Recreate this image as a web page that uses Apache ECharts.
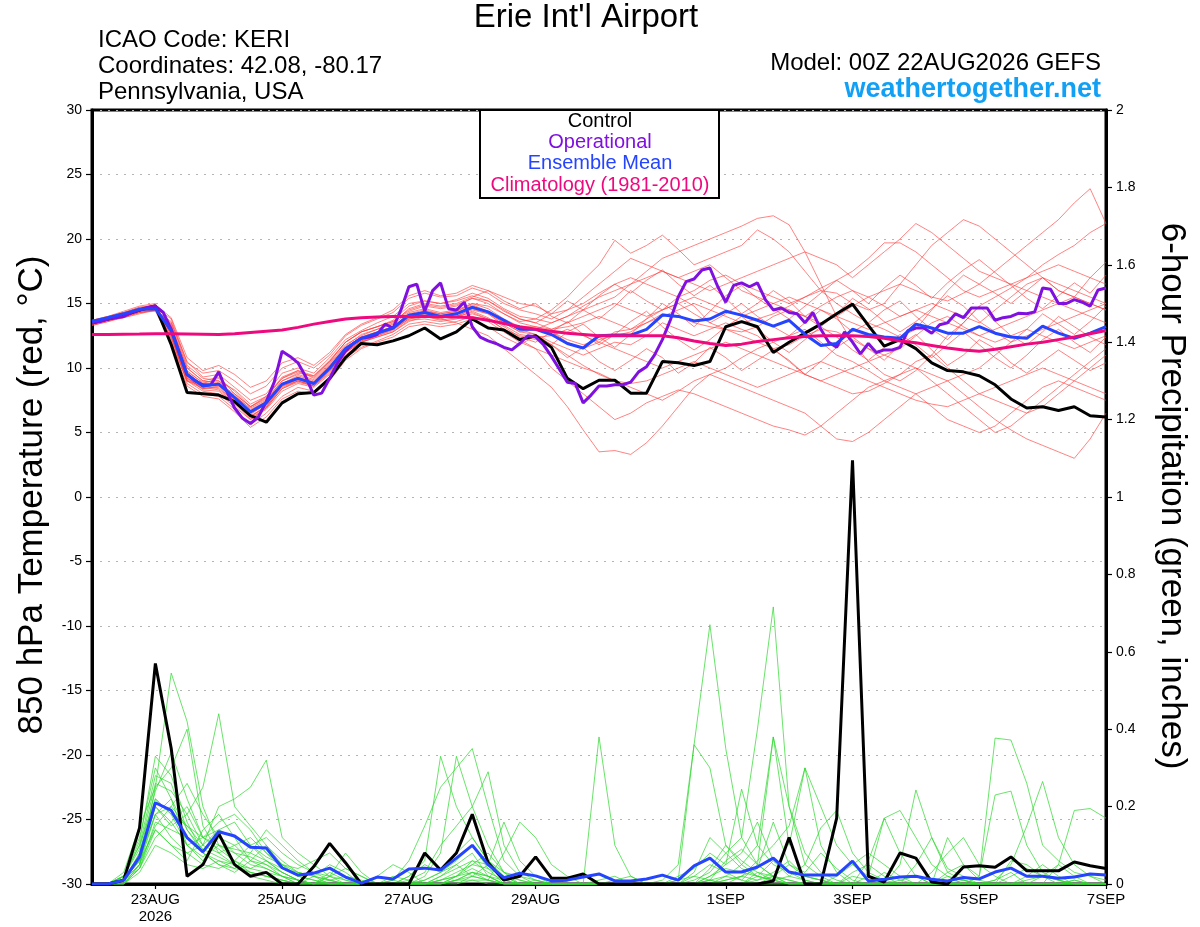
<!DOCTYPE html>
<html>
<head>
<meta charset="utf-8">
<script src="https://cdn.jsdelivr.net/npm/echarts@6/dist/echarts.min.js"></script>
<style>
html,body{margin:0;padding:0;background:#fff;}
#chart{width:1200px;height:927px;}
</style>
</head>
<body>
<div id="chart"></div>
<script>
// ---------- DATA (6-hourly from 00Z 22AUG2026 unless noted) ----------
const tickHours = [24, 72, 120, 168, 240, 288, 336, 384];
const tickLabels = ['23AUG\n2026', '25AUG', '27AUG', '29AUG', '1SEP', '3SEP', '5SEP', '7SEP'];

const climatology = [12.6,
  12.6,12.62,12.63,12.65, 12.65,12.64,12.62,12.6, 12.65,12.75,12.85,12.95, 13.15,13.4,13.6,13.8,
  13.9,13.95,14.0,14.0, 14.0,14.0,13.95,13.9, 13.7,13.45,13.2,13.0, 12.85,12.7,12.6,12.5,
  12.5,12.5,12.5,12.5, 12.35,12.1,11.9,11.75, 11.85,12.05,12.2,12.35, 12.45,12.5,12.5,12.5,
  12.45,12.3,12.1,11.95, 11.75,11.55,11.4,11.3, 11.45,11.65,11.85,12.0, 12.2,12.4,12.65,12.9];

const controlTemp = [13.5,
  13.8,14.1,14.5,14.8, 11.8,8.1,8.0,7.9, 7.4,6.3,5.8,7.3, 8.0,8.1,9.2,10.8,
  11.9,11.8,12.1,12.5, 13.1,12.25,12.8,13.8, 13.1,12.95,12.2,12.5, 11.6,9.2,8.4,9.05,
  9.05,8.05,8.05,10.5, 10.4,10.2,10.5,13.2, 13.6,13.2,11.2,12.0, 12.7,13.4,14.2,14.95,
  13.3,11.7,12.2,11.5, 10.4,9.8,9.7,9.4, 8.7,7.6,6.9,7.0, 6.7,7.0,6.3,6.2];

const meanTemp = [13.6,
  13.9,14.2,14.55,14.6, 12.9,9.5,8.6,8.75, 7.7,6.6,7.3,8.75, 9.2,8.8,10.0,11.5,
  12.3,12.7,13.1,14.1, 14.3,14.0,14.2,14.7, 14.35,13.7,13.0,13.0, 12.6,11.9,11.55,12.5,
  12.55,12.55,13.0,14.1, 14.0,13.65,13.8,14.4, 14.1,13.7,13.25,13.7, 12.6,11.75,11.9,13.0,
  12.6,12.4,12.3,13.4, 13.1,12.7,12.7,13.2, 12.7,12.4,12.3,13.25, 12.7,12.3,12.7,13.2];

// operational run is 3-hourly
const operationalTemp = [13.5,13.6,13.8,13.9,14.0,14.3,14.5,14.7,14.8,
  14.3,13.0,11.2,9.5,9.0,8.7,8.7,9.7,
  8.2,6.9,6.1,5.7,6.2,7.4,8.9,11.3,
  10.9,10.4,9.3,7.9,8.05,9.2,10.4,11.3,
  11.9,12.3,12.4,12.6,13.4,13.1,14.5,16.3,
  16.5,14.4,16.0,16.6,14.6,14.5,15.1,13.2,
  12.4,12.1,11.9,11.6,11.4,11.9,12.5,12.4,
  11.8,10.9,9.9,8.9,8.8,7.3,7.9,8.6,
  8.6,8.7,8.7,8.9,9.7,10.1,11.0,12.2,
  13.7,15.5,16.7,16.9,17.6,17.75,16.3,15.1,
  16.4,16.6,16.3,16.6,15.3,14.5,14.65,14.3,
  14.2,13.5,14.3,13.0,12.0,11.6,12.8,12.0,
  11.1,11.9,11.2,11.4,11.4,11.6,12.9,13.1,
  13.1,12.7,13.35,13.5,14.2,13.9,14.65,14.65,
  14.65,13.7,13.9,14.0,14.25,14.2,14.35,16.2,
  16.1,15.0,15.0,15.3,15.1,14.8,16.05,16.2];

const tempMembers = [
  [13.4,13.7,14.0,14.4,14.6,13.2,10.0,9.0,8.8,8.0,7.0,7.6,9.0,9.6,9.4,10.5,12.0,12.8,13.2,13.6,14.4,14.8,14.6,
   14.8,15.4,15.0,14.2,13.6,13.8,14.5,15.5,16.8,18.0,19.9,18.9,19.5,20.3,19.2,18.0,18.5,19.0,19.5,20.7,20.0,
   19.0,17.5,16.0,15.0,14.2,13.5,13.0,12.4,13.0,14.5,16.0,17.2,16.5,15.8,15.0,16.0,17.0,16.0,15.5,17.0,18.2],
  [13.7,14.0,14.3,14.7,14.9,12.5,9.0,8.2,8.0,7.0,6.0,6.8,8.2,8.8,8.5,9.5,11.0,12.0,12.5,12.9,13.8,14.0,13.8,
   13.5,13.0,12.5,11.5,10.5,9.5,8.5,7.0,5.2,3.5,3.6,3.3,4.2,5.5,7.0,8.5,9.5,10.0,10.8,11.5,12.0,
   12.5,13.0,12.0,11.0,10.5,9.8,9.0,9.5,10.5,11.0,10.0,9.0,8.0,7.5,7.0,6.5,7.5,8.5,9.5,10.5,11.5],
  [13.3,13.6,13.9,14.2,14.5,13.5,10.5,9.3,9.5,8.5,7.5,8.0,9.6,10.0,9.6,10.8,12.2,12.9,13.5,14.0,15.0,15.2,15.0,
   15.3,15.8,15.4,14.6,14.0,13.8,13.5,14.0,14.8,15.5,16.0,16.5,17.5,18.5,19.0,19.5,20.0,20.5,21.0,21.6,21.8,
   21.1,19.0,16.5,14.0,12.0,10.5,9.5,9.0,9.8,11.0,12.5,13.5,14.8,15.5,16.2,17.0,18.0,18.8,19.5,20.5,21.2],
  [13.5,13.8,14.1,14.5,14.7,12.8,9.2,8.4,8.5,7.4,6.3,7.0,8.5,9.0,8.6,9.7,11.3,12.1,12.5,13.0,14.0,14.2,13.9,
   14.0,14.5,14.2,13.5,12.8,12.6,12.0,11.5,11.0,11.5,12.0,11.8,12.5,13.5,13.0,12.5,13.0,13.5,13.0,12.5,11.5,
   10.5,9.5,9.0,8.5,8.0,8.2,8.8,9.5,10.0,9.5,9.0,8.0,7.0,6.0,5.2,4.5,4.0,3.5,3.0,4.5,6.5],
  [13.6,13.9,14.2,14.6,14.8,13.0,9.8,8.8,9.2,8.2,7.0,7.8,9.3,9.8,9.2,10.4,11.8,12.5,13.0,13.5,14.6,15.0,14.8,
   15.0,15.5,16.0,15.5,15.0,14.8,14.2,14.5,15.0,15.8,16.5,17.0,16.5,16.0,15.5,16.0,16.8,17.2,16.5,16.0,15.5,
   15.0,15.5,16.2,16.8,17.5,18.5,19.7,19.7,19.0,18.0,17.0,16.0,15.5,16.0,16.5,17.0,17.5,18.0,17.5,17.0,16.5],
  [13.4,13.7,13.9,14.3,14.4,12.0,9.0,8.6,8.8,7.5,6.4,7.2,8.6,9.0,8.7,9.8,11.4,12.2,12.6,13.0,13.8,14.0,13.8,
   14.2,14.8,14.3,13.5,12.8,13.0,12.8,12.2,11.8,12.2,12.5,12.8,13.5,14.2,14.0,13.5,13.2,13.0,12.5,12.0,11.5,
   11.8,12.5,13.0,12.8,12.2,11.5,11.0,11.5,12.5,13.5,14.0,13.2,12.5,12.0,12.5,13.0,12.5,12.0,11.5,12.0,12.5],
  [13.5,13.8,14.2,14.5,14.6,13.3,9.6,8.7,8.6,7.9,6.8,7.4,8.8,9.4,9.0,10.2,11.6,12.4,12.8,13.2,14.2,14.5,14.2,
   14.4,15.0,14.6,13.8,13.2,13.2,12.8,12.0,11.5,12.0,12.8,13.0,13.5,14.0,14.5,15.0,14.5,14.0,13.5,13.8,14.2,
   14.8,15.5,16.0,15.8,15.0,14.5,15.0,16.5,18.0,19.5,20.5,21.5,21.0,20.0,19.0,18.0,17.0,16.0,15.5,15.0,14.5],
  [13.6,13.9,14.3,14.6,14.7,12.3,9.3,8.3,8.2,7.2,6.0,6.9,8.4,8.9,8.6,9.6,11.2,12.0,12.4,12.8,13.7,13.8,13.6,
   13.8,14.2,13.8,13.0,12.5,12.2,11.8,11.0,10.2,9.5,9.0,8.5,8.0,7.5,8.2,9.0,9.5,9.0,8.5,8.0,7.5,
   7.0,6.5,5.5,4.5,4.3,5.0,6.0,7.0,8.0,8.5,9.0,9.5,10.0,11.0,12.0,12.5,13.0,13.5,14.0,14.5,15.0],
  [13.3,13.6,14.0,14.3,14.5,13.6,10.2,9.2,9.0,8.3,7.2,7.8,9.2,9.8,9.4,10.6,12.0,12.8,13.2,13.7,14.8,15.2,15.0,
   15.2,15.6,15.2,14.5,13.8,13.5,13.0,13.2,13.5,14.0,13.5,13.0,13.8,14.5,15.0,14.2,13.5,13.0,12.8,13.2,14.0,
   14.5,14.0,13.5,14.0,14.8,15.5,16.0,16.5,16.0,15.5,15.2,15.8,16.5,17.5,18.5,19.5,20.5,21.5,22.8,23.9,21.2],
  [13.7,14.0,14.4,14.8,15.0,12.6,8.8,8.0,7.8,6.8,5.6,6.5,7.8,8.5,8.2,9.2,10.8,11.6,12.1,12.6,13.4,13.6,13.4,
   13.6,14.0,13.6,12.8,12.0,11.5,11.0,10.5,10.0,9.6,9.0,8.8,9.0,9.5,10.0,10.5,10.0,9.5,9.0,8.5,9.0,
   9.5,10.0,10.5,10.0,9.5,9.0,8.5,8.0,7.5,7.2,7.0,7.5,8.0,8.5,9.0,9.5,10.0,9.5,9.0,8.5,8.0],
  [13.4,13.7,14.1,14.4,14.7,13.8,10.4,9.6,9.8,9.0,8.0,8.6,10.0,10.5,10.0,11.0,12.5,13.3,13.8,14.3,15.4,15.8,15.5,
   15.6,16.2,15.8,15.0,14.5,14.2,13.8,14.5,15.5,16.5,17.5,18.5,18.0,17.5,17.0,17.5,18.0,17.0,16.0,15.5,15.0,
   14.5,14.0,14.8,15.5,16.0,15.5,14.8,14.0,14.5,15.0,14.5,14.0,13.5,14.5,15.5,16.5,17.0,16.5,16.0,15.5,15.0],
  [13.5,13.8,14.1,14.4,14.6,12.4,9.1,8.5,8.3,7.3,6.2,7.0,8.6,9.1,8.8,9.9,11.4,12.3,12.7,13.0,13.9,14.2,14.0,
   14.0,14.3,13.8,13.0,12.2,11.5,10.0,9.0,8.0,7.0,6.0,6.5,7.3,7.8,8.3,8.0,7.5,7.0,6.5,6.0,5.5,
   5.2,4.8,5.5,6.5,7.5,8.5,9.0,8.5,8.0,7.0,6.0,5.5,5.0,5.5,6.5,7.5,8.5,9.0,8.5,8.0,7.5],
  [13.6,13.9,14.2,14.5,14.6,13.1,9.7,8.9,9.0,7.8,6.9,7.5,9.0,9.5,9.1,10.3,11.7,12.6,13.0,13.4,14.3,14.6,14.3,
   14.5,15.0,14.8,14.2,13.5,13.2,13.0,13.5,14.0,14.5,15.0,14.5,14.0,14.5,15.0,15.5,15.0,14.5,14.0,14.5,15.0,
   15.5,15.0,14.5,14.0,13.5,13.0,13.5,14.0,14.5,14.0,13.5,13.0,12.5,13.0,13.5,14.0,14.5,15.0,15.5,15.0,14.5],
  [13.4,13.7,14.0,14.4,14.5,12.7,9.4,8.6,8.7,7.6,6.5,7.2,8.7,9.2,8.9,10.1,11.6,12.4,12.8,13.2,14.1,14.4,14.2,
   14.4,14.9,14.4,13.6,13.0,13.0,13.5,14.0,14.5,15.0,15.5,16.5,17.0,17.5,17.0,16.5,16.0,16.5,17.0,17.5,18.0,
   18.5,19.0,18.5,18.0,17.0,18.0,19.0,20.0,21.2,20.5,19.5,18.5,17.5,17.0,16.5,16.0,15.5,15.0,14.5,14.0,13.5],
  [13.5,13.9,14.2,14.6,14.8,12.2,9.0,8.4,8.6,7.5,6.2,7.1,8.7,9.1,8.8,9.8,11.3,12.1,12.6,13.1,13.9,14.1,13.9,
   14.0,14.6,14.2,13.3,12.6,12.4,12.5,13.0,12.5,12.0,11.5,11.0,10.5,10.0,10.5,11.0,11.5,12.0,11.5,11.0,10.5,
   10.0,9.5,9.0,9.5,10.0,10.5,11.0,10.5,10.0,9.0,8.0,7.0,6.0,5.0,5.5,6.5,7.0,8.0,9.0,10.0,11.0],
  [13.5,13.8,14.2,14.6,14.9,13.9,10.8,9.8,10.2,9.5,8.5,9.0,10.4,10.8,10.2,11.2,12.6,13.4,13.9,14.5,15.6,16.0,15.6,
   15.8,16.4,16.0,15.2,14.6,15.0,14.0,13.5,14.5,13.8,14.8,16.0,15.2,14.5,15.5,14.8,13.5,14.2,15.0,14.0,13.2,
   12.5,13.5,14.5,13.8,12.8,13.5,14.5,15.2,14.0,13.0,12.2,13.5,14.8,13.6,12.5,11.8,12.8,14.0,13.2,12.4,11.8],
  [13.6,13.9,14.3,14.7,14.8,12.0,8.6,7.8,7.6,6.6,5.4,6.2,7.6,8.2,8.0,9.0,10.6,11.5,12.0,12.4,13.2,13.4,13.2,
   13.4,13.8,13.2,12.4,11.8,12.5,11.8,10.8,11.6,10.5,9.8,10.6,11.5,10.8,9.6,10.4,11.6,10.8,9.8,10.6,11.4,
   10.6,9.5,10.5,11.6,12.4,11.5,10.6,11.8,12.6,11.4,10.2,11.0,12.2,11.5,10.4,9.6,10.5,11.4,10.6,9.8,10.4],
  [13.4,13.7,14.0,14.3,14.5,13.4,10.0,9.0,9.3,8.0,7.0,7.7,9.2,9.7,9.3,10.5,12.0,12.8,13.2,13.6,14.5,14.9,14.7,
   14.9,15.4,15.2,14.4,13.8,13.5,14.2,15.2,14.5,15.6,16.5,15.8,16.8,17.6,16.5,15.6,16.4,15.4,14.2,15.0,16.0,
   15.2,14.0,13.2,14.2,15.4,14.6,13.6,12.8,13.6,14.6,15.6,14.8,13.6,12.8,12.0,13.0,14.2,13.4,12.6,13.6,14.8],
  [13.5,13.8,14.1,14.5,14.7,12.6,9.2,8.6,8.4,7.4,6.1,6.9,8.4,9.0,8.6,9.8,11.2,12.0,12.4,12.8,13.6,14.0,13.7,
   13.9,14.4,13.9,13.2,12.4,12.0,12.8,13.6,12.6,11.8,12.6,13.6,14.4,13.2,12.2,11.4,12.2,13.2,14.0,13.0,12.0,
   11.2,12.2,13.2,12.4,11.4,10.6,11.6,12.6,11.8,10.8,11.8,12.8,11.8,10.8,10.0,11.0,12.2,13.0,12.0,11.2,12.4],
  [13.6,13.9,14.2,14.5,14.6,12.9,9.5,8.5,8.9,7.7,6.7,7.4,8.8,9.3,8.9,10.1,11.6,12.3,12.8,13.2,14.1,14.4,14.1,
   14.3,14.8,14.4,13.6,13.0,12.6,11.8,12.8,13.4,12.4,11.6,12.6,13.8,15.0,14.2,13.2,14.4,15.6,16.4,15.4,14.6,
   13.8,14.8,15.8,16.8,16.0,15.0,16.2,17.2,16.4,15.4,16.6,17.6,18.4,17.4,16.4,15.4,14.6,15.6,16.6,15.8,17.2]
];

const controlPrecip = [0,
  0,0.01,0.145,0.57, 0.35,0.02,0.05,0.13, 0.05,0.02,0.03,0, 0,0.045,0.105,0.055,
  0,0,0,0, 0.08,0.036,0.08,0.18, 0.055,0.01,0.02,0.07, 0.015,0.015,0.026,0,
  0,0,0,0, 0,0,0,0, 0,0,0.008,0.12, 0,0,0.17,1.095,
  0.02,0.005,0.08,0.067, 0.005,0,0.044,0.047, 0.043,0.07,0.034,0.034, 0.034,0.057,0.047,0.04];

const meanPrecip = [0,
  0,0.01,0.07,0.21, 0.19,0.12,0.083,0.135, 0.124,0.095,0.093,0.042, 0.023,0.028,0.041,0.018,
  0.002,0.018,0.013,0.039, 0.041,0.036,0.067,0.1, 0.05,0.016,0.028,0.021, 0.008,0.01,0.018,0.026,
  0.008,0.008,0.013,0.023, 0.01,0.047,0.067,0.031, 0.031,0.044,0.067,0.031, 0.023,0.023,0.023,0.059,
  0.008,0.012,0.018,0.02, 0.012,0.008,0.017,0.013, 0.031,0.041,0.02,0.02, 0.015,0.018,0.026,0.023];

const precipMembers = [
  [0, 0,0.02,0.12,0.30, 0.22,0.10,0.06,0.12, 0.08,0.05,0.04,0.02, 0,0,0.03,0.01, 0,0,0,0.02, 0.05,0.03,0.06,0.10, 0.04,0,0,0.01, 0,0,0,0,
   0,0,0,0.01, 0.05,0.36,0.67,0.35, 0.12,0.05,0.02,0, 0,0,0,0, 0,0,0.01,0.02, 0,0,0,0, 0.01,0.03,0,0, 0,0,0,0],
  [0, 0,0.03,0.15,0.25, 0.545,0.42,0.20,0.10, 0.06,0.03,0.02,0.01, 0,0.02,0.05,0.03, 0,0,0.01,0, 0.02,0.08,0.33,0.20, 0.10,0.03,0,0, 0,0,0,0,
   0.01,0.02,0,0, 0,0.02,0.05,0.03, 0.01,0.05,0.38,0.10, 0.30,0.10,0.03,0, 0,0,0,0, 0,0.02,0.01,0, 0,0,0,0, 0,0.01,0,0],
  [0, 0,0,0.08,0.20, 0.15,0.18,0.25,0.44, 0.20,0.15,0.10,0.06, 0.03,0.02,0,0, 0,0,0,0, 0.01,0.03,0.05,0.02, 0.01,0,0,0, 0,0,0,0.38,
   0.10,0.02,0,0, 0,0,0.01,0.06, 0.09,0.05,0.02,0.01, 0,0,0,0.03, 0.05,0.02,0,0, 0,0,0.01,0, 0,0.06,0.05,0.02, 0,0,0,0],
  [0, 0,0.01,0.05,0.25, 0.30,0.40,0.15,0.08, 0.05,0.02,0.01,0, 0,0,0,0, 0,0.02,0.05,0.03, 0,0.02,0.05,0.08, 0.02,0,0,0, 0,0,0,0,
   0,0,0,0, 0.02,0.04,0.08,0.05, 0.245,0.10,0.05,0.03, 0.02,0.01,0,0, 0.02,0.17,0.08,0.02, 0,0,0,0, 0,0,0,0, 0,0,0,0],
  [0, 0,0.02,0.06,0.18, 0.12,0.08,0.10,0.20, 0.22,0.25,0.32,0.12, 0.08,0.05,0.02,0, 0,0,0,0, 0,0,0.02,0.03, 0.01,0,0,0, 0,0,0,0,
   0,0,0,0, 0,0,0,0.01, 0.02,0.04,0.16,0.05, 0.02,0.01,0,0, 0,0,0.05,0.243, 0.12,0.03,0.01,0, 0,0,0,0, 0,0,0,0],
  [0, 0,0,0.04,0.16, 0.14,0.12,0.08,0.05, 0.03,0.06,0.10,0.05, 0.02,0.01,0,0, 0,0,0.01,0.06, 0.15,0.25,0.30,0.35, 0.20,0.06,0.02,0.01, 0,0,0,0,
   0,0,0,0, 0,0.01,0.03,0.08, 0.12,0.40,0.716,0.20, 0.08,0.03,0.01,0, 0,0,0,0, 0,0,0,0, 0,0,0.02,0.05, 0.02,0,0,0],
  [0, 0,0.01,0.06,0.14, 0.10,0.06,0.14,0.18, 0.12,0.10,0.06,0.03, 0.01,0,0.02,0.08, 0.03,0,0,0, 0,0.01,0.02,0.06, 0.05,0.02,0,0, 0,0,0,0,
   0,0,0,0, 0,0,0,0, 0.02,0.06,0.10,0.15, 0.30,0.20,0.10,0.05, 0.02,0,0,0, 0,0.03,0.05,0.02, 0.377,0.372,0.26,0.10, 0.06,0.03,0.02,0.01],
  [0, 0,0,0.03,0.10, 0.08,0.05,0.04,0.06, 0.05,0.03,0.02,0.01, 0,0,0,0, 0,0,0,0, 0,0,0.01,0.03, 0.02,0,0,0, 0,0,0,0,
   0,0,0,0, 0.01,0.36,0.30,0.10, 0.05,0.02,0.01,0.02, 0.05,0.145,0.19,0.08, 0.03,0.01,0,0, 0,0,0,0, 0,0,0,0.02, 0.05,0.02,0,0],
  [0, 0,0.02,0.10,0.22, 0.18,0.15,0.12,0.10, 0.08,0.07,0.05,0.03, 0.01,0,0,0, 0,0,0.02,0.01, 0,0,0,0.02, 0.05,0.16,0.06,0.02, 0,0,0,0,
   0,0,0,0, 0,0,0,0.02, 0.05,0.10,0.38,0.20, 0.05,0.02,0,0, 0,0.03,0.01,0, 0,0,0,0, 0.01,0.05,0.15,0.265, 0.12,0.05,0.02,0],
  [0, 0,0.01,0.05,0.15, 0.20,0.15,0.10,0.08, 0.10,0.12,0.08,0.05, 0.03,0.02,0.01,0, 0,0,0,0, 0,0.01,0.03,0.05, 0.04,0.02,0,0, 0,0,0,0,
   0,0,0,0, 0.01,0.02,0.01,0, 0,0.03,0.02,0.01, 0,0,0.02,0.05, 0.08,0.05,0.02,0, 0,0.12,0.05,0.01, 0,0,0,0, 0.05,0.19,0.195,0.17],
  [0, 0,0,0.04,0.12, 0.16,0.20,0.12,0.09, 0.06,0.04,0.03,0.02, 0.01,0,0,0, 0,0,0,0, 0.01,0.03,0.08,0.12, 0.06,0.02,0.01,0, 0,0,0,0,
   0,0,0,0, 0,0,0,0.01, 0.02,0.01,0.03,0.06, 0.02,0.01,0,0, 0.06,0.17,0.19,0.12, 0.05,0.02,0,0, 0,0,0,0, 0,0,0,0],
  [0, 0,0.01,0.07,0.18, 0.22,0.14,0.08,0.06, 0.04,0.03,0.02,0.01, 0,0,0.01,0.02, 0.01,0,0,0, 0,0,0.01,0.02, 0.01,0.08,0.16,0.12, 0.05,0.02,0,0,
   0,0,0,0, 0,0,0.01,0, 0,0,0,0, 0,0,0,0, 0,0,0,0, 0.03,0.08,0.12,0.05, 0.02,0,0,0, 0,0,0,0],
  [0, 0,0.02,0.09,0.26, 0.24,0.18,0.10,0.14, 0.12,0.06,0.04,0.02, 0.01,0,0,0, 0,0,0,0.01, 0.03,0.10,0.15,0.20, 0.29,0.10,0.03,0.01, 0,0,0,0,
   0,0,0,0, 0,0,0.02,0.04, 0.03,0.02,0.01,0, 0,0,0,0, 0,0,0,0, 0,0,0,0, 0,0.02,0.04,0.02, 0.01,0,0,0],
  [0, 0,0,0.05,0.22, 0.18,0.10,0.07,0.10, 0.09,0.08,0.06,0.04, 0.03,0.02,0.01,0, 0,0,0,0, 0,0,0.01,0.01, 0,0,0,0, 0,0,0,0.01,
   0.02,0,0,0, 0,0,0.02,0.05, 0.08,0.16,0.06,0.02, 0.01,0,0,0, 0,0,0,0, 0,0,0,0.02, 0.23,0.24,0.10,0.03, 0.01,0,0,0],
  [0, 0,0.01,0.04,0.14, 0.10,0.08,0.05,0.04, 0.06,0.10,0.12,0.08, 0.05,0.03,0.02,0.01, 0,0,0,0.02, 0.06,0.33,0.20,0.12, 0.06,0.03,0.02,0, 0,0,0,0,
   0,0,0,0, 0,0,0,0, 0,0.01,0.02,0, 0,0,0,0, 0,0,0,0.05, 0.12,0.04,0.02,0, 0,0,0,0, 0,0,0,0],
  [0, 0,0.02,0.10,0.28, 0.26,0.14,0.09,0.07, 0.05,0.04,0.06,0.03, 0.01,0,0,0, 0,0,0,0, 0,0.02,0.04,0.06, 0.03,0.01,0,0, 0,0,0,0,
   0,0,0,0, 0,0.03,0.12,0.08, 0.04,0.02,0.01,0, 0,0,0,0, 0,0,0,0, 0,0,0,0, 0,0,0,0, 0,0.01,0,0],
  [0, 0,0.01,0.08,0.24, 0.34,0.22,0.12,0.16, 0.18,0.14,0.08,0.04, 0.02,0.01,0,0, 0,0,0,0, 0,0,0.01,0.03, 0.02,0,0,0, 0,0,0,0,
   0,0,0,0, 0,0,0.01,0.02, 0.01,0,0.02,0.05, 0.03,0.08,0.04,0.01, 0,0,0,0, 0,0,0,0, 0,0,0,0, 0,0,0,0],
  [0, 0,0,0.05,0.18, 0.20,0.26,0.18,0.12, 0.10,0.06,0.05,0.02, 0,0,0.02,0.04, 0.02,0,0,0, 0,0.01,0.02,0.05, 0.08,0.03,0.01,0, 0,0,0,0,
   0,0,0,0, 0,0,0.04,0.10, 0.06,0.03,0.01,0, 0,0,0,0.02, 0.01,0,0,0, 0,0,0,0, 0,0,0,0, 0,0,0,0],
  [0, 0,0.02,0.11,0.33, 0.28,0.16,0.08,0.05, 0.04,0.08,0.14,0.10, 0.06,0.03,0.01,0, 0,0,0,0, 0,0,0,0.01, 0.01,0,0,0, 0,0,0,0,
   0,0,0,0, 0,0,0,0, 0,0.02,0.06,0.03, 0.01,0,0,0, 0,0,0,0, 0,0,0,0, 0,0,0,0, 0,0,0,0],
  [0, 0,0.01,0.06,0.20, 0.16,0.10,0.12,0.14, 0.16,0.10,0.07,0.05, 0.04,0.06,0.08,0.04, 0.02,0,0,0, 0,0,0.02,0.04, 0.02,0.01,0,0, 0,0,0,0,
   0,0,0,0, 0,0,0,0, 0,0,0,0, 0,0,0,0, 0,0,0,0, 0,0,0,0, 0,0,0.01,0.02, 0.01,0,0,0]
];

// ---------- CHART ----------
const STEP = 6, OP_STEP = 3;
const pairs = (vals, step) => vals.map((v, i) => [i * step, v]);
const FONT = '"Liberation Sans", Arial, Helvetica, sans-serif';
const labelMap = {};
tickHours.forEach((h, k) => { labelMap[h] = tickLabels[k]; });

const series = [];
tempMembers.forEach((m, k) => series.push({
  name: 'tmem' + k, type: 'line', yAxisIndex: 0, data: pairs(m, STEP), showSymbol: false, symbol: 'none',
  lineStyle: { color: '#ff3c3c', width: 0.8, opacity: 0.8 }, z: 2, silent: true
}));
precipMembers.forEach((m, k) => series.push({
  name: 'pmem' + k, type: 'line', yAxisIndex: 1, data: pairs(m, STEP), showSymbol: false, symbol: 'none',
  lineStyle: { color: '#2fd82f', width: 0.8, opacity: 0.9 }, z: 2, silent: true
}));
const thick = (name, vals, step, axis, color, z) => ({
  name, type: 'line', yAxisIndex: axis, data: pairs(vals, step), showSymbol: false, symbol: 'none',
  lineStyle: { color, width: 3 }, z, silent: true
});
series.push(thick('Control', controlTemp, STEP, 0, '#000000', 4));
series.push(thick('Operational', operationalTemp, OP_STEP, 0, '#8010e0', 5));
series.push(thick('Ensemble Mean', meanTemp, STEP, 0, '#2444ff', 6));
series.push(thick('Climatology', climatology, STEP, 0, '#ee0a7e', 7));
series.push(thick('Control precip', controlPrecip, STEP, 1, '#000000', 4));
series.push(thick('Mean precip', meanPrecip, STEP, 1, '#2444ff', 6));

const chart = echarts.init(document.getElementById('chart'), null, { renderer: 'canvas' });
chart.setOption({
  animation: false,
  backgroundColor: '#ffffff',
  grid: { left: 92, right: 94, top: 110, bottom: 43, show: true, borderColor: '#000', borderWidth: 3, backgroundColor: 'transparent' },
  xAxis: {
    type: 'value', min: 0, max: 384,
    axisLine: { show: true, onZero: false, lineStyle: { color: '#000', width: 3 } },
    axisTick: { show: true, customValues: tickHours, length: 5, lineStyle: { color: '#000', width: 1.2 } },
    axisLabel: { customValues: tickHours, formatter: v => labelMap[v] || '', color: '#000', fontSize: 15, fontFamily: FONT, margin: 7, lineHeight: 17 },
    splitLine: { show: false }
  },
  yAxis: [
    {
      type: 'value', min: -30, max: 30, interval: 5, position: 'left',
      axisLine: { show: true, lineStyle: { color: '#000', width: 3 } },
      axisTick: { show: true, length: 6, lineStyle: { color: '#000', width: 1.2 } },
      axisLabel: { color: '#000', fontSize: 14, fontFamily: FONT, margin: 10 },
      splitLine: { show: true, lineStyle: { color: '#b4b4b4', width: 1, type: [2, 6] } }
    },
    {
      type: 'value', min: 0, max: 2, interval: 0.2, position: 'right',
      axisLine: { show: true, lineStyle: { color: '#000', width: 3 } },
      axisTick: { show: true, length: 6, lineStyle: { color: '#000', width: 1.2 } },
      axisLabel: { color: '#000', fontSize: 14, fontFamily: FONT, margin: 10,
        formatter: v => (Math.round(v * 10) / 10).toString() },
      splitLine: { show: false }
    }
  ],
  series,
  graphic: [
    { type: 'text', x: 586, y: 18, z: 100, style: { text: "Erie Int'l Airport", font: '33px ' + FONT, fill: '#000', align: 'center', verticalAlign: 'middle' } },
    { type: 'text', x: 98, y: 40, z: 100, style: { text: 'ICAO Code: KERI', font: '24px ' + FONT, fill: '#000', align: 'left', verticalAlign: 'middle' } },
    { type: 'text', x: 98, y: 66, z: 100, style: { text: 'Coordinates: 42.08, -80.17', font: '24px ' + FONT, fill: '#000', align: 'left', verticalAlign: 'middle' } },
    { type: 'text', x: 98, y: 92, z: 100, style: { text: 'Pennsylvania, USA', font: '24px ' + FONT, fill: '#000', align: 'left', verticalAlign: 'middle' } },
    { type: 'text', x: 1101, y: 63, z: 100, style: { text: 'Model: 00Z 22AUG2026 GEFS', font: '24px ' + FONT, fill: '#000', align: 'right', verticalAlign: 'middle' } },
    { type: 'text', x: 1101, y: 90, z: 100, style: { text: 'weathertogether.net', font: 'bold 27px ' + FONT, fill: '#12a0f5', align: 'right', verticalAlign: 'middle' } },
    { type: 'rect', z: 100, shape: { x: 480, y: 110, width: 239, height: 88 }, style: { fill: '#fff', stroke: '#000', lineWidth: 2 } },
    { type: 'text', x: 600, y: 121, z: 101, style: { text: 'Control', font: '20px ' + FONT, fill: '#000', align: 'center', verticalAlign: 'middle' } },
    { type: 'text', x: 600, y: 142, z: 101, style: { text: 'Operational', font: '20px ' + FONT, fill: '#8010e0', align: 'center', verticalAlign: 'middle' } },
    { type: 'text', x: 600, y: 163, z: 101, style: { text: 'Ensemble Mean', font: '20px ' + FONT, fill: '#2444ff', align: 'center', verticalAlign: 'middle' } },
    { type: 'text', x: 600, y: 185, z: 101, style: { text: 'Climatology (1981-2010)', font: '20px ' + FONT, fill: '#ee0a7e', align: 'center', verticalAlign: 'middle' } },
    { type: 'text', x: 32, y: 495, rotation: Math.PI / 2, z: 100, style: { text: '850 hPa Temperature (red, °C)', font: '35px ' + FONT, fill: '#000', align: 'center', verticalAlign: 'middle' } },
    { type: 'text', x: 1172, y: 496, rotation: -Math.PI / 2, z: 100, style: { text: '6-hour Precipitation (green, inches)', font: '35px ' + FONT, fill: '#000', align: 'center', verticalAlign: 'middle' } }
  ]
});
</script>
</body>
</html>
